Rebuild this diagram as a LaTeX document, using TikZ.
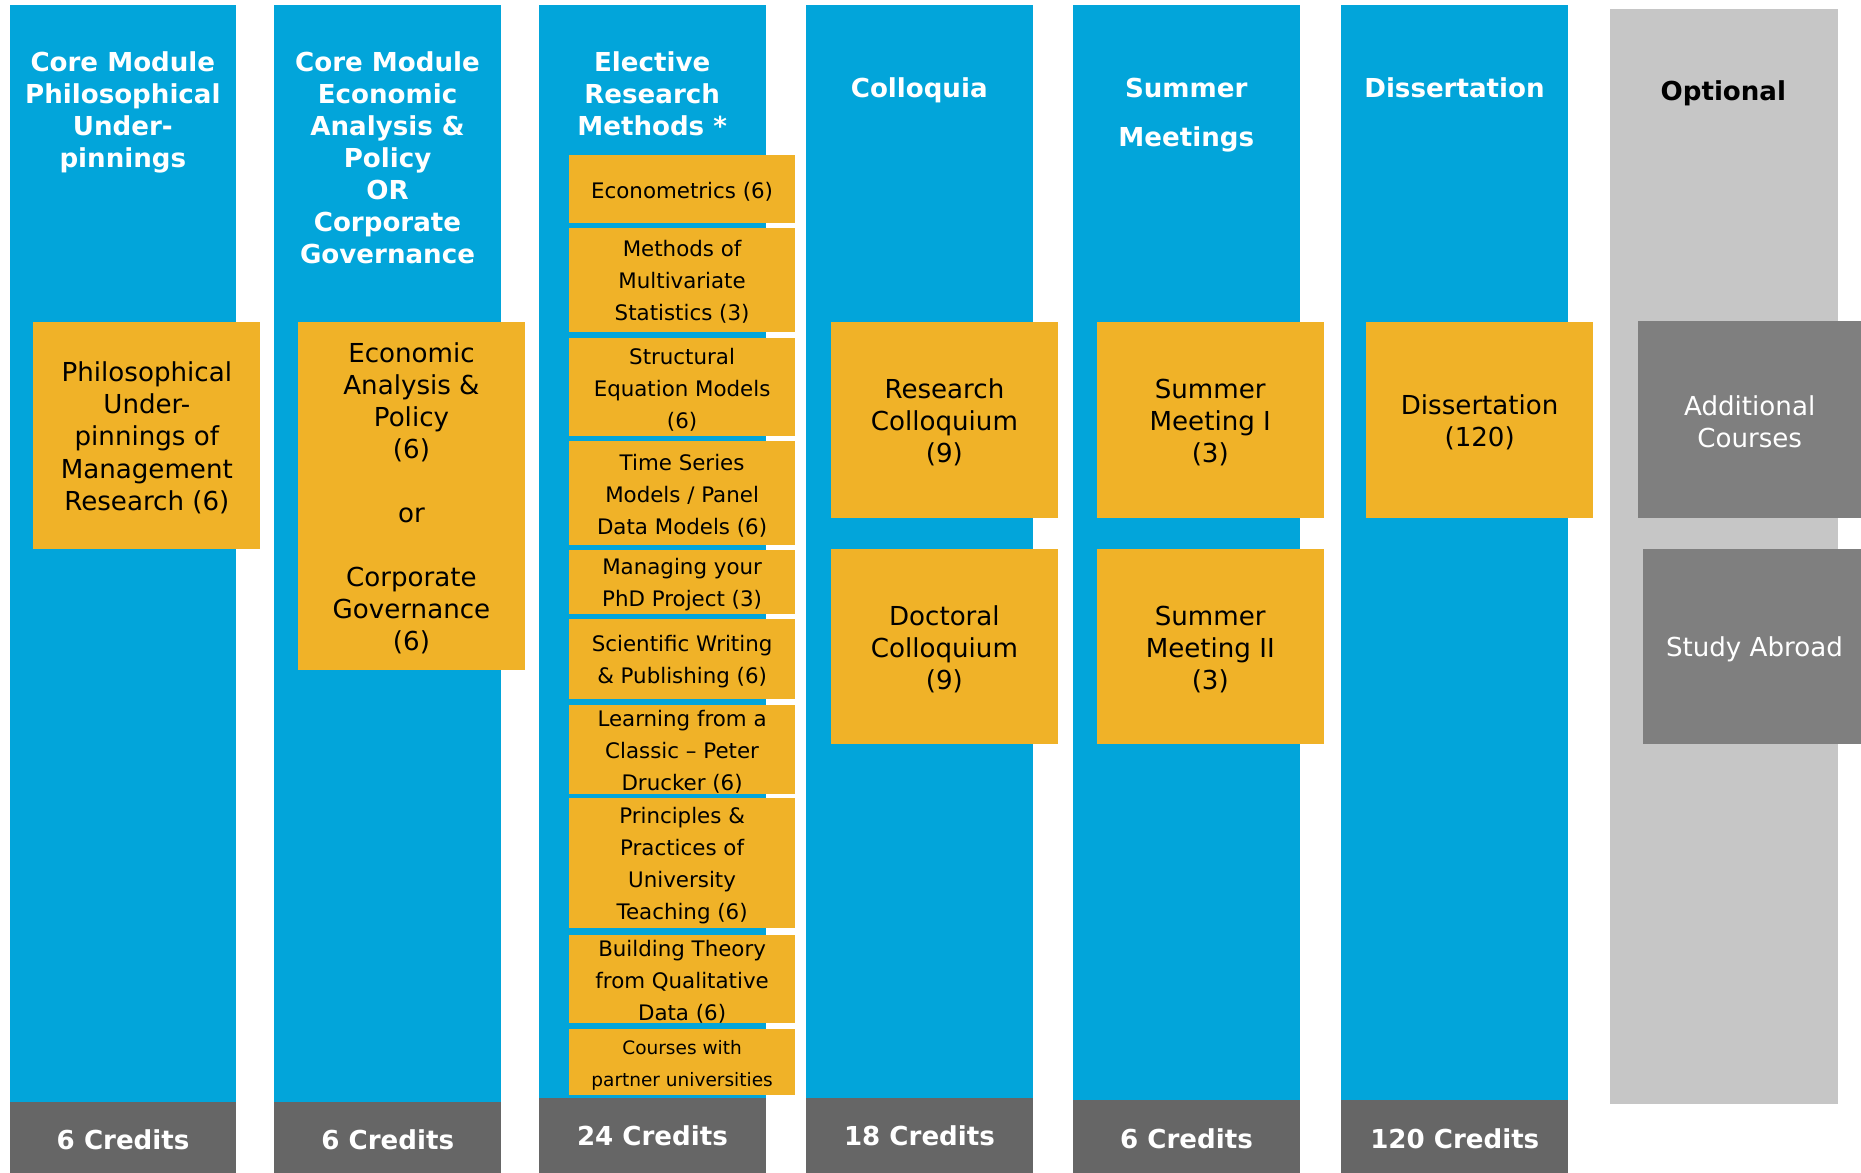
\documentclass[tikz,border=0pt]{standalone}
\usepackage{fontspec}
\setmainfont{DejaVu Sans}
\definecolor{blueC}{RGB}{2,165,218}
\definecolor{orangeC}{RGB}{240,178,40}
\definecolor{creditC}{RGB}{102,102,102}
\definecolor{optC}{RGB}{198,198,198}
\definecolor{darkboxC}{RGB}{127,127,127}
\newcommand{\lowr}{\rule{0pt}{21pt}}
\newcommand{\lows}{\rule{0pt}{17.5pt}}
\begin{document}
\begin{tikzpicture}[x=1pt,y=-1pt,
  colbox/.style={anchor=north west, inner sep=0, fill=blueC, minimum width=191},
  optbox/.style={anchor=north west, inner sep=0, fill=optC, minimum width=192},
  credit/.style={anchor=north west, inner sep=0, fill=creditC, minimum width=191, minimum height=64,
     text=white, font=\bfseries\fontsize{22}{27}\selectfont},
  hdr/.style={anchor=north, inner sep=0, align=center, text=white, font=\bfseries\fontsize{22}{27}\selectfont},
  bigbox/.style={anchor=north west, inner sep=0, fill=orangeC, minimum width=191, align=center,
     font=\fontsize{22}{27}\selectfont},
  elbox/.style={anchor=north west, inner sep=0, fill=orangeC, minimum width=191, align=center,
     font=\fontsize{18}{27}\selectfont},
  greybox/.style={anchor=north west, inner sep=0, fill=darkboxC, minimum width=188, align=center,
     text=white, font=\fontsize{22}{27}\selectfont}
]
\useasboundingbox (0,0) rectangle (1568,988);
\fill[white] (0,0) rectangle (1568,988);

% columns
\node[colbox, minimum height=924] (col1) at (8,4) {};
\node[colbox, minimum height=924] (col2) at (231,4) {};
\node[colbox, minimum height=921] (col3) at (454,4) {};
\node[colbox, minimum height=921] (col4) at (679,4) {};
\node[colbox, minimum height=923] (col5) at (904,4) {};
\node[colbox, minimum height=923] (col6) at (1130,4) {};
\node[optbox, minimum height=923] (colopt) at (1356,7) {};

% credits
\node[credit] (cr1) at (8,928) {6 Credits};
\node[credit] (cr2) at (231,928) {6 Credits};
\node[credit] (cr3) at (454,925) {24 Credits};
\node[credit] (cr4) at (679,925) {18 Credits};
\node[credit] (cr5) at (904,927) {6 Credits};
\node[credit] (cr6) at (1130,927) {120 Credits};

% headers
\node[hdr] (h1) at (103.5,43) {Core Module\\Philosophical\\Under-\\pinnings};
\node[hdr] (h2) at (326.5,43) {Core Module\\Economic\\Analysis \&\\Policy\\OR\\Corporate\\Governance};
\node[hdr] (h3) at (549.5,43) {Elective\\Research\\Methods *};
\node[hdr] (h4) at (774.5,65) {Colloquia};
\node[hdr, font=\bfseries\fontsize{22}{41}\selectfont] (h5) at (999.5,66) {Summer\\Meetings};
\node[hdr] (h6) at (1225.5,65) {Dissertation};
\node[hdr, text=black] (h7) at (1452,68) {Optional};

% orange boxes
\node[bigbox, minimum height=191] (b1) at (28,271) {\lowr Philosophical\\Under-\\pinnings of\\Management\\Research (6)};
\node[bigbox, minimum height=293] (b2) at (251,271) {\lowr Economic\\Analysis \&\\Policy\\(6)\\[27pt]or\\[27pt]Corporate\\Governance\\(6)};

\node[elbox, minimum height=57] (e1) at (479,130.6) {\lows Econometrics (6)};
\node[elbox, minimum height=88] (e2) at (479,191.5) {\lows Methods of\\Multivariate\\Statistics (3)};
\node[elbox, minimum height=82] (e3) at (479,285) {\lows Structural\\Equation Models\\(6)};
\node[elbox, minimum height=87.4] (e4) at (479,371.6) {\lows Time Series\\Models / Panel\\Data Models (6)};
\node[elbox, minimum height=53.5] (e5) at (479,463.5) {\lows Managing your\\PhD Project (3)};
\node[elbox, minimum height=67.4] (e6) at (479,521.6) {\lows Scientific Writing\\\& Publishing (6)};
\node[elbox, minimum height=74.8] (e7) at (479,594) {\lows Learning from a\\Classic – Peter\\Drucker (6)};
\node[elbox, minimum height=109.6] (e8) at (479,672.4) {\lows Principles \&\\Practices of\\University\\Teaching (6)};
\node[elbox, minimum height=74] (e9) at (479,787.8) {\lows Building Theory\\from Qualitative\\Data (6)};
\node[elbox, minimum height=56.3, font=\fontsize{15.6}{27}\selectfont] (e10) at (479,866.4) {\rule{0pt}{18pt}Courses with\\partner universities};

\node[bigbox, minimum height=165] (b4a) at (700,271) {\lowr Research\\Colloquium\\(9)};
\node[bigbox, minimum height=165] (b4b) at (700,462) {\lowr Doctoral\\Colloquium\\(9)};
\node[bigbox, minimum height=165] (b5a) at (924,271) {\lowr Summer\\Meeting I\\(3)};
\node[bigbox, minimum height=165] (b5b) at (924,462) {\lowr Summer\\Meeting II\\(3)};
\node[bigbox, minimum height=165] (b6) at (1151,271) {\lowr Dissertation\\(120)};

% optional grey boxes
\node[greybox, minimum height=166] (g1) at (1380,270) {\lowr Additional\\Courses};
\node[greybox, minimum height=165] (g2) at (1384,462) {\lowr Study Abroad};
\end{tikzpicture}
\end{document}
